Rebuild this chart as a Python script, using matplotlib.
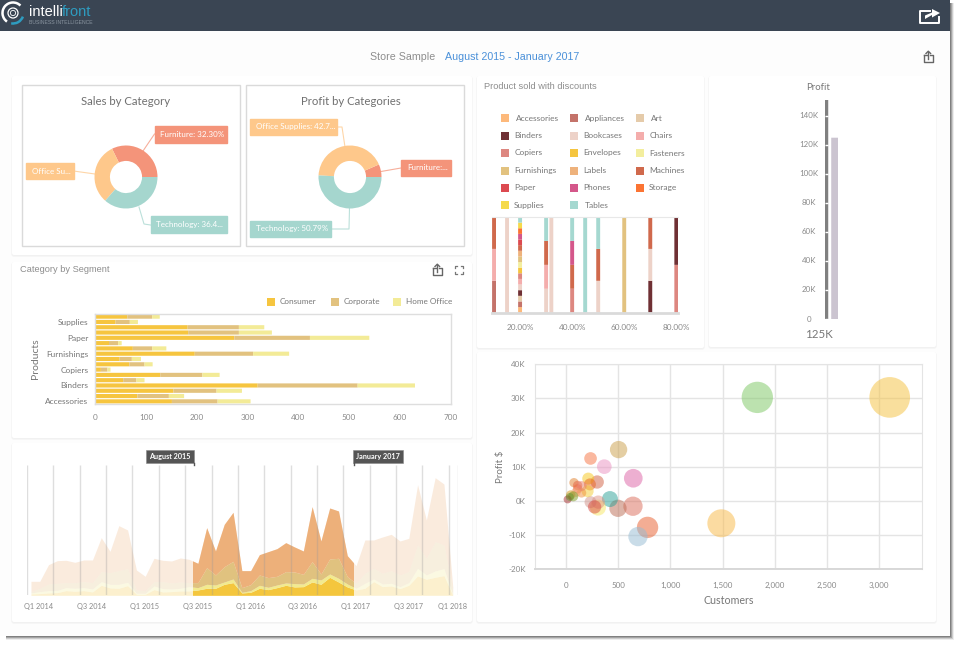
import numpy as np
import matplotlib
matplotlib.use("Agg")
import matplotlib.pyplot as plt
from matplotlib.patches import Rectangle, FancyBboxPatch, Circle, Arc

UI_FONT = ["Lato", "DejaVu Sans"]
HEAD_FONT = ["Liberation Sans", "DejaVu Sans"]
plt.rcParams["font.family"] = UI_FONT

# ---- data ----
donut_colors = ["#F4947A", "#FEC88B", "#A5D6CE"]
sales_share = [32.30, 31.25, 36.45]
profit_share = [6.50, 42.71, 50.79]

products = ["Accessories", "Appliances", "Art", "Binders", "Bookcases", "Chairs",
            "Copiers", "Envelopes", "Fasteners", "Furnishings", "Labels", "Machines",
            "Paper", "Phones", "Storage", "Supplies", "Tables"]
product_colors = ["#FDB97B", "#C4736A", "#E5CBAA", "#6F3034", "#EDD2C8", "#F4ADAC",
                  "#DD8780", "#F5C53F", "#F3EE9E", "#E2C27F", "#EEB27C", "#D0694C",
                  "#DC4A50", "#D4578A", "#FB7433", "#F5DA4B", "#A5D8D0"]
consumer = [151, 83, 154, 320, 55, 128, 11, 67, 48, 196, 74, 27, 274, 183, 182, 40, 63]
corporate = [90, 62, 85, 197, 26, 83, 13, 30, 24, 115, 38, 18, 149, 100, 101, 28, 49]
home_office = [65, 30, 50, 113, 16, 34, 6, 16, 18, 71, 28, 7, 117, 65, 50, 16, 15]
segment_names = ["Consumer", "Corporate", "Home Office"]
segment_colors = ["#F6C53F", "#E2C27F", "#F3EB97"]

# monthly stacked bands, January 2014 to January 2018
band_consumer = [4, 5, 7, 8, 14, 12, 14, 10, 30, 22, 21, 29, 3, 3, 17, 10, 11, 13, 13, 16, 21, 21, 33, 38, 7,
                 9, 21, 17, 23, 30, 25, 26, 40, 33, 54, 40, 25, 16, 21, 41, 26, 28, 20, 30, 58, 48, 54, 59, 0]
band_home = [7, 11, 14, 15, 23, 21, 23, 19, 41, 33, 33, 39, 6, 6, 28, 20, 19, 21, 26, 23, 33, 31, 40, 49, 9,
             14, 30, 24, 31, 37, 35, 34, 51, 46, 64, 51, 34, 21, 36, 49, 34, 36, 26, 38, 81, 61, 73, 80, 2]
band_corporate = [11, 21, 34, 36, 38, 38, 41, 38, 71, 68, 74, 80, 16, 14, 41, 41, 37, 40, 38, 38, 83, 61, 86, 102, 23,
                  32, 61, 53, 57, 71, 70, 63, 101, 64, 109, 111, 56, 36, 66, 81, 66, 74, 61, 71, 151, 111, 161, 151, 21]
band_total = [42, 42, 92, 104, 105, 99, 106, 106, 173, 132, 209, 196, 76, 57, 111, 105, 103, 112, 108, 96, 203, 133, 213, 249, 74,
              74, 122, 131, 140, 158, 145, 133, 266, 163, 262, 253, 119, 89, 166, 166, 175, 183, 163, 171, 332, 226, 353, 334, 26]
band_colors = ["#F4C63D", "#F2EA8F", "#E0C27F", "#EDB07A"]
quarter_labels = ["Q1 2014", "Q3 2014", "Q1 2015", "Q3 2015", "Q1 2016",
                  "Q3 2016", "Q1 2017", "Q3 2017", "Q1 2018"]

# share of each product at every discount level
discount_levels = [10, 15, 20, 30, 32, 40, 45, 50, 60, 70, 80]
discount_mix = [
    ["Appliances", "Chairs", "Machines"],
    ["Bookcases"],
    products,
    ["Bookcases", "Chairs", "Machines", "Tables"],
    ["Bookcases"],
    ["Copiers", "Machines", "Phones", "Tables"],
    ["Tables"],
    ["Bookcases", "Machines", "Tables"],
    ["Furnishings"],
    ["Binders", "Bookcases", "Machines"],
    ["Copiers", "Binders"],
]

gauge_profit = 125
gauge_max = 151
gauge_ticks = [0, 20, 40, 60, 80, 100, 120, 140]

bubble_customers = [3103, 1833, 1488, 780, 688, 640, 643, 496, 502, 419, 365, 233, 297, 211,
                    227, 304, 307, 233, 272, 74, 109, 109, 205, 147, 42, 148, 93, 67, 13, 35]
bubble_profit = [30.3, 30.3, -6.6, -7.8, -10.5, -1.6, 6.6, -2.2, 15.0, 0.5, 10.0, 12.4, 5.5, 6.5,
                 4.8, -2.0, -0.4, -0.4, -1.8, 5.3, 4.5, 3.5, 2.8, 2.3, 1.7, 4.3, 2.5, 1.3, 0.4, 1.1]
bubble_sales = [3721, 2209, 1764, 1024, 841, 841, 784, 676, 676, 576, 484, 361, 400, 324,
                324, 576, 400, 324, 400, 196, 196, 196, 324, 196, 196, 225, 196, 225, 144, 144]
bubble_colors = ["#F5C13D", "#7BC761", "#F9B945", "#E95D2B", "#95BBD3", "#DB6B59", "#DD61A5",
                 "#BB6B53", "#CB9F49", "#2AA197", "#EB91C1", "#F77341", "#D15F41", "#F7C719",
                 "#E8641F", "#F7E761", "#DF9385", "#D1938B", "#D84A40", "#E07F2A", "#E56141",
                 "#EE6A3F", "#F3CD35", "#F1913F", "#D59717", "#E8806A", "#F0A070", "#7A9A20",
                 "#A83030", "#5F8F30"]

# ---- layout helpers ----
W, H = 960, 646
fig = plt.figure(figsize=(W / 100, H / 100), dpi=100, facecolor="white")
TICK = "#8A8A8A"
LABEL = "#777777"


def panel(left, top, right, bottom, z=2):
    ax = fig.add_axes([left / W, 1 - bottom / H, (right - left) / W, (bottom - top) / H], zorder=z)
    ax.patch.set_alpha(0)
    return ax


back = panel(0, 0, W, H, z=0)
back.set_xlim(0, W)
back.set_ylim(H, 0)
back.axis("off")
top = panel(0, 0, W, H, z=5)
top.set_xlim(0, W)
top.set_ylim(H, 0)
top.axis("off")

# page, its drop shadow and the header strip
for i, grey in enumerate(["#EDEDED", "#CCCCCC", "#A4A4A4", "#808080"]):
    back.add_patch(Rectangle((949, 3), 4.5 - i, 637 - i, fc=grey, ec="none"))
    back.add_patch(Rectangle((6, 635), 947 - i, 5 - i, fc=grey, ec="none"))
back.add_patch(Rectangle((0, 0), 949.5, 635.5, fc="#FDFDFD", ec="none"))
back.add_patch(Rectangle((0, 0), 949.5, 30.5, fc="#3A4553", ec="none"))


def card(l, t, r, b):
    back.add_patch(FancyBboxPatch((l, t + 1), r - l, b - t, boxstyle="round,pad=0,rounding_size=2",
                                  fc="#EEEEEE", ec="#F3F3F3", lw=1))
    back.add_patch(FancyBboxPatch((l, t), r - l, b - t, boxstyle="round,pad=0,rounding_size=2",
                                  fc="white", ec="none"))


for c in [(12, 76, 472, 255), (12, 262, 472, 438), (12, 443, 472, 622),
          (477, 76, 704, 348), (709, 76, 936, 347), (477, 352, 936, 622)]:
    card(*c)
for l in (21.5, 245.5):
    back.add_patch(Rectangle((l, 85), 218.5, 161, fc="white", ec="#DADADA", lw=1))


def upload_icon(x, y, color="#666666"):
    top.plot([x - 4, x - 4, x + 4.5, x + 4.5, x + 2], [y - 2, y + 5, y + 5, y - 2, y - 2], color=color, lw=1)
    top.plot([x - 4, x - 1.5], [y - 2, y - 2], color=color, lw=1)
    top.plot([x + 0.3, x + 0.3], [y + 2, y - 5.5], color=color, lw=1)
    top.plot([x - 2, x + 0.3, x + 2.6], [y - 3.5, y - 5.8, y - 3.5], color=color, lw=1)


upload_icon(928, 57)
upload_icon(437, 270)
for sx, sy in [(-1, -1), (1, -1), (-1, 1), (1, 1)]:
    cx, cy = 459 + sx * 4, 270 + sy * 4
    top.plot([cx - sx * 1.6, cx, cx], [cy, cy, cy - sy * 1.6], color="#777777", lw=0.9)

# header logo
top.add_patch(Circle((13, 13), 5, fc="none", ec="white", lw=0.9))
top.add_patch(Circle((13, 13), 2.6, fc="none", ec="white", lw=0.6))
top.add_patch(Arc((13, 13), 21, 21, theta1=-235, theta2=-45, ec="white", lw=1.8))
top.add_patch(Arc((13, 13), 21, 21, theta1=20, theta2=100, ec="#2E9CC0", lw=1.8))
top.text(29, 12, "intelli", color="white", family=HEAD_FONT, fontsize=10.5, va="center", ha="left")
top.text(61.8, 12, "front", color="#2E9CC0", family=HEAD_FONT, fontsize=10.5, va="center", ha="left")
top.text(29, 22.3, "BUSINESS INTELLIGENCE", color="#8A95A0", family=HEAD_FONT, fontsize=3.7, va="center", ha="left")

# header export arrow
top.plot([930, 920, 920, 939, 939], [10.5, 10.5, 22.5, 22.5, 17], color="white", lw=1.4)
top.fill([925, 925, 932, 932, 940, 932, 932], [19, 15.5, 12.5, 9, 13, 17.5, 15], color="white", lw=0)

# page title
top.text(370.5, 57, "Store Sample", family=HEAD_FONT, fontsize=7.7, color="#8E8E8E", va="center")
top.text(445, 57, "August 2015 - January 2017", family=HEAD_FONT, fontsize=7.7, color="#4A90D9", va="center")
top.text(19.5, 270, "Category by Segment", family=HEAD_FONT, fontsize=6.7, color="#8E8E8E", va="center")
top.text(483.5, 86.6, "Product sold with discounts", family=HEAD_FONT, fontsize=6.7, color="#8E8E8E", va="center")


# ---- donuts ----
def donut(cx, cy, values, title, title_x):
    ax = panel(cx - 31.5, 177 - 31.5, cx + 31.5, 177 + 31.5)
    ax.pie(values, colors=donut_colors, startangle=0, counterclock=True, radius=1,
           wedgeprops=dict(width=0.49, lw=0))
    ax.set_xlim(-1, 1)
    ax.set_ylim(-1, 1)
    top.text(title_x, 101.5, title, fontsize=8.2, color="#707070", ha="center", va="center")


donut(126, 177, sales_share, "Sales by Category", 126)
donut(350, 177, profit_share, "Profit by Categories", 350.5)


def callout(box, text, color, path):
    l, t, r, b = box
    xs, ys = zip(*path)
    top.plot(xs, ys, color=color, lw=0.8, alpha=0.75)
    top.add_patch(Rectangle((l, t), r - l, b - t, fc=color, ec=color, lw=1, alpha=1))
    top.text(l + 6, (t + b) / 2, text, color="white", fontsize=5.8, va="center", ha="left")


callout((154.5, 126, 226.5, 142.5), f"Furniture: {sales_share[0]:.2f}%", donut_colors[0],
        [(143, 151), (154.5, 134)])
callout((25.5, 163, 73.5, 179), "Office Su...", donut_colors[1], [(73.5, 171), (95, 174)])
callout((150.5, 216, 226.5, 232.5), "Technology: 36.4...", donut_colors[2],
        [(139, 207), (144, 224), (150.5, 225)])
callout((249.5, 119, 337, 135), "Office Supplies: 42.7...", donut_colors[1],
        [(337, 127), (342, 127), (345, 147)])
callout((401, 159.5, 450.5, 176), "Furniture:...", donut_colors[0], [(381, 171.5), (401, 168)])
callout((249.5, 221, 331, 237), f"Technology: {profit_share[2]:.2f}%", donut_colors[2],
        [(349.5, 208), (349, 229), (331, 229)])

# ---- segment bars ----
ax = panel(95.3, 314, 450.5, 404)
rows = np.arange(len(products))
left = np.zeros(len(products))
for vals, col in zip((consumer, corporate, home_office), segment_colors):
    ax.barh(rows, vals, left=left, height=0.78, color=col, lw=0, snap=False)
    left = left + np.array(vals)
ax.set_xlim(0, 700)
ax.set_ylim(-0.5, len(products) - 0.5)
ax.set_xticks(range(0, 701, 100))
ax.set_yticks(rows[::3])
ax.set_yticklabels(products[::3])
ax.tick_params(length=0, labelcolor=LABEL, pad=5)
ax.tick_params(axis="x", labelsize=5.9, labelcolor=TICK, pad=7)
ax.tick_params(axis="y", labelsize=6.0)
for s in ax.spines.values():
    s.set_color("#DEDEDE")
    s.set_linewidth(1)
top.text(35.5, 359, "Products", rotation=90, fontsize=7.5, color=LABEL, ha="center", va="center")
for name, col, sx, tx in zip(segment_names, segment_colors, (267.3, 330.7, 393.3), (280, 343.7, 405.7)):
    top.add_patch(Rectangle((sx, 297.7), 8, 8, fc=col, ec="none"))
    top.text(tx, 301.7, name, fontsize=5.9, color=LABEL, va="center")

# ---- time navigator ----
months = np.arange(len(band_total))
ax = panel(27, 465, 458, 595.3)
ax.set_xlim(-0.45, 48.6)
ax.set_ylim(0, 391)
ax.axis("off")
floor = np.zeros(len(months))
stack = [band_consumer, band_home, band_corporate, band_total]
lowers = [floor] + [np.array(s) for s in stack[:-1]]
for lo, hi, col in zip(lowers, stack, band_colors):
    ax.fill_between(months, lo, hi, color=col, alpha=0.25, lw=0, zorder=2)
    selected = ax.fill_between(months, lo, hi, color=col, lw=0, zorder=3)
    selected.set_clip_path(Rectangle((18.48, 0), 18.2, 391, transform=ax.transData))
quarters = np.arange(-0.45, 48, 3)
ax.vlines(np.append(quarters, 48.6), 0, 391, color="#9A9A9A", lw=1, alpha=0.32, zorder=4)
for text, x in zip(quarter_labels, (39, 91.7, 144.3, 197.7, 250.3, 303, 355.7, 409, 453)):
    top.text(x, 606, text, fontsize=5.3, color=TICK, ha="center", va="center")
for l, r, tip, text in [(146, 194, 193.5, "August 2015"), (353, 403, 353.5, "January 2017")]:
    top.add_patch(Rectangle((l, 449.5), r - l, 13.5, fc="#555555", ec="#8A8A8A", lw=0.4))
    top.plot([tip, tip], [463, 465], color="#555555", lw=1)
    top.text((l + r) / 2, 456.5, text, fontsize=5.2, color="white", weight="bold", ha="center", va="center")

# ---- discount stacks ----
ax = panel(491.7, 217, 678, 312.7)
for level, members in zip(discount_levels, discount_mix):
    base = 0.0
    share = 1 / len(members)
    for m in members:
        ax.bar(level, share, bottom=base, width=1.5, color=product_colors[products.index(m)], lw=0, snap=False)
        base += share
ax.set_xlim(9.1, 80.65)
ax.set_ylim(0, 1)
ax.set_yticks([])
ax.set_xticks([20, 40, 60, 80])
ax.set_xticklabels(["20.00%", "40.00%", "60.00%", "80.00%"])
ax.tick_params(length=0, labelsize=5.9, labelcolor=TICK, pad=8)
for name in ("left", "right"):
    ax.spines[name].set_visible(False)
ax.spines["top"].set_color("#E8E8E8")
ax.spines["bottom"].set_color("#DADADA")
ax.spines["bottom"].set_linewidth(2)

col_x = [501, 570, 636]
row_y = [118.3, 135.7, 153, 170.7, 187.7, 205.3]
for i, (name, col) in enumerate(zip(products, product_colors)):
    r, c = divmod(i, 3)
    top.add_patch(Rectangle((col_x[c], row_y[r] - 4), 8, 8, fc=col, ec="none"))
    nudge = 1.3 if name in ("Accessories", "Appliances", "Art", "Tables") else 0
    top.text(col_x[c] + 13.2 + nudge, row_y[r], name, fontsize=6.0, color=LABEL, va="center")

# ---- bullet gauge ----
ax = panel(824.7, 100, 838.3, 319)
ax.set_xlim(0, 1)
ax.set_ylim(0, gauge_max)
ax.axis("off")
ax.bar(0.13, gauge_max, width=0.26, color="#808080", lw=0, snap=False)
ax.bar(0.74, gauge_profit, width=0.52, color="#CBC4D0", lw=0, snap=False)
ax.hlines(gauge_ticks, 0, 0.26, color="white", lw=1)
for v in gauge_ticks:
    y = 319 - v * (219 / gauge_max)
    top.text(809, y, f"{v}K" if v else "0", fontsize=5.7, color=TICK, ha="center", va="center")
top.text(818, 87.7, "Profit", fontsize=6.9, color=LABEL, ha="center", va="center")
top.text(819, 334.3, f"{gauge_profit}K", fontsize=8.3, color=LABEL, ha="center", va="center")

# ---- bubble scatter ----
ax = panel(535.3, 364.3, 921.7, 569)
ax.scatter(bubble_customers, bubble_profit, s=np.array(bubble_sales) * 0.2304,
           c=bubble_colors, alpha=0.5, lw=0, zorder=3)
ax.set_xlim(-297, 3410)
ax.set_ylim(-20, 40)
ax.set_xticks(range(0, 3001, 500))
ax.set_xticklabels([f"{v:,}" for v in range(0, 3001, 500)])
ax.set_yticks(range(-20, 41, 10))
ax.set_yticklabels([f"{v}K" for v in range(-20, 41, 10)])
ax.grid(color="#E4E4E4", lw=1, zorder=1)
ax.set_axisbelow(True)
ax.tick_params(length=0, labelsize=5.8, labelcolor=TICK)
ax.tick_params(axis="x", pad=9)
ax.tick_params(axis="y", pad=7)
for s in ax.spines.values():
    s.set_color("#E4E4E4")
ax.spines["bottom"].set_color("#D8D8D8")
ax.spines["bottom"].set_linewidth(1.4)
top.text(728.5, 600, "Customers", fontsize=7.7, color=LABEL, ha="center", va="center")
top.text(500.5, 467, "Profit $", fontsize=7, color=LABEL, rotation=90, ha="center", va="center")

fig.savefig("out.png", dpi=100)
